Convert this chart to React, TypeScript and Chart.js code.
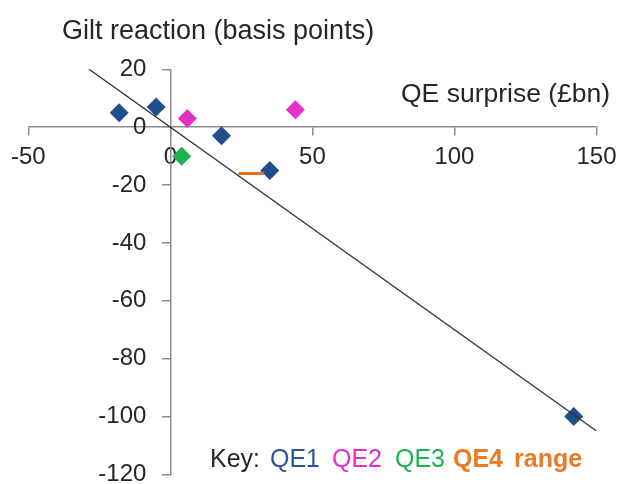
import React, { useEffect, useRef } from "react";
import { Chart, registerables } from "chart.js";

Chart.register(...registerables);

// ---- Data ----
const qe1X = [-18, -5, 18, 35, 142];
const qe1Y = [5, 7, -3, -15, -100];
const qe2X = [6, 44];
const qe2Y = [3, 6];
const qe3X = [4];
const qe3Y = [-10];
const qe4RangeX = [24, 33];
const qe4RangeY = [-16, -16];
const fitLineX = [-29, 150];
const fitLineY = [20.3, -105];

const xMin = -50;
const xMax = 150;
const xStep = 50;
const yMin = -120;
const yMax = 20;
const yStep = 20;

const yAxisTitle = "Gilt reaction (basis points)";
const xAxisTitle = "QE surprise (£bn)";
const keyTexts = ["Key:", "QE1", "QE2", "QE3", "QE4", "range"];
const keyColors = ["#262626", "#2A5597", "#E62ECB", "#1DB151", "#EC7A23", "#EC7A23"];
const keyBold = [false, false, false, false, true, true];

const COLORS = {
  qe1: "#204F8E",
  qe2: "#E52FC9",
  qe3: "#1DB152",
  qe4: "#E8711E",
  fit: "#333333",
  axis: "#8E8E8E",
  text: "#262626",
};

const FONT = '"Liberation Sans", Arial, sans-serif';

const zip = (xs: number[], ys: number[]) => xs.map((x, i) => ({ x, y: ys[i] }));

const textPlugin = {
  id: "customTexts",
  afterDraw(chart: any) {
    const ctx = chart.ctx as CanvasRenderingContext2D;
    ctx.save();
    ctx.textBaseline = "alphabetic";
    ctx.textAlign = "left";
    ctx.fillStyle = COLORS.text;
    ctx.font = `27px ${FONT}`;
    ctx.fillText(yAxisTitle, 62, 39);
    ctx.font = `26.5px ${FONT}`;
    ctx.fillText(xAxisTitle, 401, 102);
    const starts = [210, 270, 332, 395, 453, 514];
    keyTexts.forEach((t, i) => {
      ctx.font = `${keyBold[i] ? "bold " : ""}25px ${FONT}`;
      ctx.fillStyle = keyColors[i];
      ctx.fillText(t, starts[i], 467);
    });
    ctx.restore();
  },
};

const noReserve = (dim: "width" | "height") => (s: any) => {
  s[dim] = 0;
  s.paddingTop = 0;
  s.paddingBottom = 0;
  s.paddingLeft = 0;
  s.paddingRight = 0;
};

export default function App() {
  const canvasRef = useRef<HTMLCanvasElement | null>(null);

  useEffect(() => {
    const canvas = canvasRef.current;
    if (!canvas) return;
    const diamond = {
      pointStyle: "rectRot" as const,
      pointRadius: 9.5,
      pointHoverRadius: 9.5,
      borderWidth: 0,
      showLine: false,
      order: 2,
    };
    const chart = new Chart(canvas, {
      type: "scatter",
      data: {
        datasets: [
          {
            label: "QE1",
            data: zip(qe1X, qe1Y),
            backgroundColor: COLORS.qe1,
            borderColor: COLORS.qe1,
            ...diamond,
          },
          {
            label: "QE2",
            data: zip(qe2X, qe2Y),
            backgroundColor: COLORS.qe2,
            borderColor: COLORS.qe2,
            ...diamond,
          },
          {
            label: "QE3",
            data: zip(qe3X, qe3Y),
            backgroundColor: COLORS.qe3,
            borderColor: COLORS.qe3,
            ...diamond,
          },
          {
            label: "QE4 range",
            data: zip(qe4RangeX, qe4RangeY),
            showLine: true,
            borderColor: COLORS.qe4,
            backgroundColor: COLORS.qe4,
            borderWidth: 3,
            pointRadius: 0,
            order: 1,
          },
          {
            label: "Fit",
            data: zip(fitLineX, fitLineY),
            showLine: true,
            borderColor: COLORS.fit,
            backgroundColor: COLORS.fit,
            borderWidth: 1.3,
            pointRadius: 0,
            order: 0,
          },
        ],
      },
      options: {
        responsive: false,
        animation: false,
        events: [],
        layout: { padding: { left: 28.3, right: 23.5, top: 69.3, bottom: 8.7 } },
        plugins: {
          legend: { display: false },
          tooltip: { enabled: false },
          title: { display: false },
        },
        scales: {
          x: {
            type: "linear",
            position: { y: 0 } as any,
            min: xMin,
            max: xMax,
            afterFit: noReserve("height"),
            ticks: {
              stepSize: xStep,
              color: COLORS.text,
              font: { family: FONT, size: 24 },
              padding: 8,
              maxRotation: 0,
              autoSkip: false,
            },
            grid: {
              display: true,
              drawOnChartArea: false,
              drawTicks: true,
              tickLength: 8,
              color: COLORS.axis,
              lineWidth: 1.5,
            },
            border: { display: true, color: COLORS.axis, width: 1.5 },
          },
          y: {
            type: "linear",
            position: { x: 0 } as any,
            min: yMin,
            max: yMax,
            afterFit: noReserve("width"),
            ticks: {
              stepSize: yStep,
              color: COLORS.text,
              font: { family: FONT, size: 24 },
              autoSkip: false,
              callback: (v: any) => `${v}\u2002\u2002`,
            },
            grid: {
              display: true,
              drawOnChartArea: false,
              drawTicks: true,
              tickLength: 8,
              color: COLORS.axis,
              lineWidth: 1.5,
            },
            border: { display: true, color: COLORS.axis, width: 1.5 },
          },
        },
      },
      plugins: [textPlugin],
    });
    return () => chart.destroy();
  }, []);

  return (
    <div style={{ position: "absolute", left: 0, top: 0, width: 620, height: 484, background: "#ffffff" }}>
      <canvas ref={canvasRef} width={620} height={484} style={{ display: "block" }} />
    </div>
  );
}
